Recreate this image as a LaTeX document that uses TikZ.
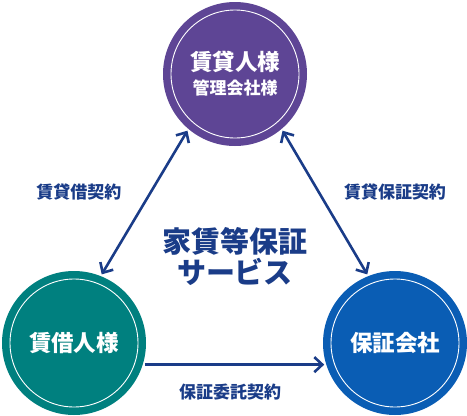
\documentclass[tikz,border=0pt]{standalone}
\usepackage{fontspec}
\setmainfont{Noto Sans CJK JP}
\usetikzlibrary{arrows.meta}
\definecolor{ownerpurple}{HTML}{5E4595}
\definecolor{tenantteal}{HTML}{00807F}
\definecolor{guarantorblue}{HTML}{0A5DB4}
\definecolor{navy}{HTML}{1A3C88}
\tikzset{
  party/.style={circle, fill=#1, minimum size=144pt, inner sep=0pt, outer sep=2pt, align=center, text=white, font=\bfseries\fontsize{22.5}{26}\selectfont,
    path picture={\draw[white, line width=0.9pt] (path picture bounding box.center) circle (64pt);}},
  contract/.style={text=navy, font=\bfseries\fontsize{17}{19}\selectfont},
  biarrow/.style={{Straight Barb[length=8pt,width=15pt]}-{Straight Barb[length=8pt,width=15pt]}, line width=2.6pt, draw=navy},
  arrow/.style={-{Straight Barb[length=8pt,width=15pt]}, line width=2.6pt, draw=navy}
}
\begin{document}
\begin{tikzpicture}[x=1pt, y=-1pt]
  \useasboundingbox (0,0) rectangle (467,416);
  \node[party=ownerpurple] (owner) at (235,74) {賃貸人様\\[-2pt]{\fontsize{17}{19}\selectfont 管理会社様}};
  \node[party=tenantteal] (tenant) at (74,343) {賃借人様};
  \node[party=guarantorblue] (guarantor) at (395,343) {保証会社};

  \draw[biarrow] (tenant.68) -- (owner.230);
  \draw[biarrow] (owner.310) -- (guarantor.112);
  \draw[arrow] (tenant.343) -- (guarantor.197);

  \node[contract] (lease) at (79,192) {賃貸借契約};
  \node[contract] (guarantee) at (395,192) {賃貸保証契約};
  \node[contract] (entrust) at (230,392) {保証委託契約};

  \node[text=navy, align=center, font=\bfseries\fontsize{29}{31}\selectfont] (service) at (235,257) {家賃等保証\\サービス};
\end{tikzpicture}
\end{document}
